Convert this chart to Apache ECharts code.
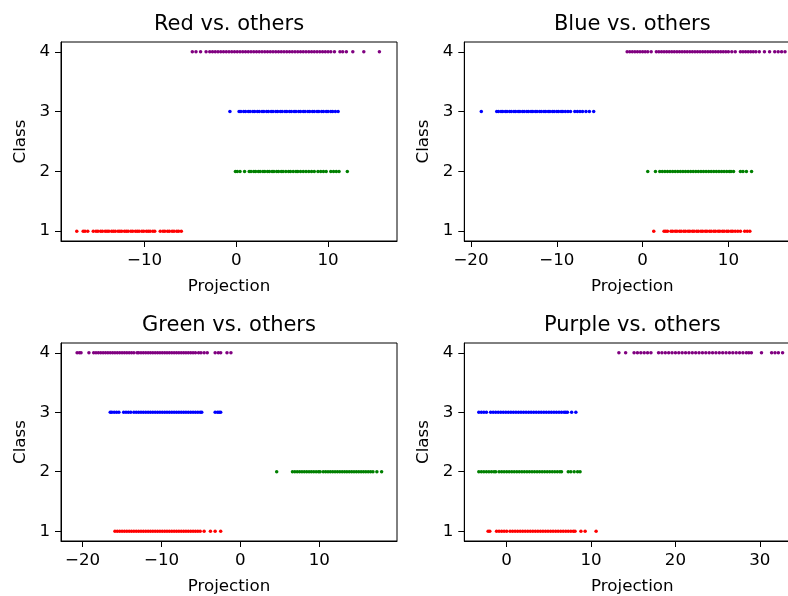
<!DOCTYPE html>
<html>
<head>
<meta charset="utf-8">
<script src="https://cdn.jsdelivr.net/npm/echarts@6/dist/echarts.min.js"></script>
<style>
html,body{margin:0;padding:0;background:#fff;overflow:hidden;width:788px;height:596px;}
#chart{width:801px;height:596px;}
</style>
</head>
<body>
<div id="chart"></div>
<script>
// ---------- data (x projection values per class, per panel) ----------
const panelTitles = ["Red vs. others", "Blue vs. others", "Green vs. others", "Purple vs. others"];
const classTicks = [1, 2, 3, 4];
const xTicks1 = [-10, 0, 10];
const xTicks2 = [-20, -10, 0, 10];
const xTicks3 = [-20, -10, 0, 10];
const xTicks4 = [0, 10, 20, 30];

// Panel 1: Red vs. others
const p1Red = [-17.4, -16.7, -16.5, -16.2, -15.6, -15.3, -15.1, -14.8, -14.6, -14.3, -14.1, -13.9, -13.6, -13.4, -13.2, -12.9, -12.7, -12.5, -12.2, -12.0, -11.8, -11.5, -11.3, -11.0, -10.8, -10.6, -10.3, -10.1, -9.8, -9.6, -9.4, -9.1, -8.9, -8.3, -8.0, -7.8, -7.5, -7.3, -7.0, -6.8, -6.5, -6.3, -6.0];
const p1Green = [-0.1, 0.1, 0.4, 0.9, 1.4, 1.6, 1.9, 2.1, 2.4, 2.6, 2.9, 3.1, 3.4, 3.6, 3.9, 4.1, 4.4, 4.6, 4.9, 5.1, 5.4, 5.7, 5.9, 6.2, 6.5, 6.7, 7.0, 7.3, 7.6, 7.9, 8.2, 8.5, 8.9, 9.2, 9.5, 9.8, 10.3, 10.6, 10.9, 11.2, 12.1];
const p1Blue = [-0.7, 0.3, 0.5, 0.8, 1.0, 1.3, 1.5, 1.8, 2.0, 2.3, 2.5, 2.8, 3.0, 3.3, 3.5, 3.8, 4.0, 4.3, 4.5, 4.8, 5.0, 5.3, 5.5, 5.8, 6.0, 6.3, 6.5, 6.8, 7.0, 7.3, 7.5, 7.8, 8.0, 8.3, 8.5, 8.8, 9.0, 9.3, 9.5, 9.8, 10.0, 10.3, 10.5, 10.8, 11.1];
const p1Purple = [-4.8, -4.4, -3.9, -3.3, -2.9, -2.6, -2.3, -2.0, -1.7, -1.4, -1.1, -0.8, -0.5, -0.2, 0.1, 0.4, 0.7, 1.0, 1.3, 1.6, 1.9, 2.2, 2.5, 2.8, 3.1, 3.4, 3.7, 4.0, 4.3, 4.6, 4.9, 5.2, 5.5, 5.8, 6.1, 6.4, 6.7, 7.0, 7.3, 7.6, 7.9, 8.2, 8.5, 8.8, 9.1, 9.4, 9.7, 10.0, 10.3, 10.7, 11.3, 11.6, 12.0, 12.7, 13.9, 15.6];

// Panel 2: Blue vs. others
const p2Red = [1.3, 2.5, 2.7, 2.9, 3.3, 3.5, 3.8, 4.0, 4.3, 4.5, 4.8, 5.0, 5.3, 5.5, 5.8, 6.0, 6.3, 6.5, 6.8, 7.0, 7.3, 7.5, 7.8, 8.0, 8.3, 8.5, 8.8, 9.0, 9.3, 9.5, 9.8, 10.0, 10.3, 10.5, 10.8, 11.1, 11.4, 11.9, 12.2, 12.5];
const p2Green = [0.6, 1.5, 2.0, 2.3, 2.6, 2.9, 3.2, 3.5, 3.8, 4.1, 4.4, 4.7, 5.0, 5.3, 5.6, 5.9, 6.2, 6.5, 6.8, 7.1, 7.4, 7.7, 8.0, 8.3, 8.6, 8.9, 9.2, 9.5, 9.8, 10.1, 10.3, 10.6, 11.4, 11.7, 12.1, 12.7];
const p2Blue = [-18.8, -17.0, -16.8, -16.5, -16.3, -16.0, -15.8, -15.5, -15.3, -15.0, -14.8, -14.5, -14.3, -14.0, -13.8, -13.5, -13.3, -13.0, -12.8, -12.5, -12.3, -12.0, -11.8, -11.5, -11.3, -11.0, -10.8, -10.5, -10.3, -10.0, -9.8, -9.5, -9.3, -9.0, -8.7, -8.4, -7.9, -7.6, -7.3, -7.0, -6.6, -6.2, -5.7];
const p2Purple = [-1.8, -1.5, -1.2, -0.9, -0.6, -0.3, 0.0, 0.3, 0.6, 1.0, 1.6, 1.9, 2.2, 2.5, 2.8, 3.1, 3.4, 3.7, 4.0, 4.3, 4.6, 4.9, 5.2, 5.5, 5.8, 6.1, 6.4, 6.7, 7.0, 7.3, 7.6, 7.9, 8.2, 8.5, 8.8, 9.1, 9.4, 9.7, 10.0, 10.4, 10.8, 11.4, 11.7, 12.0, 12.3, 12.6, 12.9, 13.2, 13.6, 14.2, 14.8, 15.4, 15.8, 16.2, 16.6];

// Panel 3: Green vs. others
const p3Red = [-15.9, -15.6, -15.3, -15.0, -14.7, -14.4, -14.1, -13.8, -13.5, -13.2, -12.9, -12.6, -12.3, -12.0, -11.7, -11.4, -11.1, -10.8, -10.5, -10.2, -9.9, -9.6, -9.3, -9.0, -8.7, -8.4, -8.1, -7.8, -7.5, -7.2, -6.9, -6.6, -6.3, -6.0, -5.7, -5.4, -5.1, -4.6, -3.8, -3.2, -2.5];
const p3Green = [4.6, 6.6, 6.9, 7.2, 7.5, 7.8, 8.1, 8.4, 8.7, 9.0, 9.3, 9.6, 9.9, 10.1, 10.5, 10.8, 11.1, 11.4, 11.7, 12.0, 12.3, 12.6, 12.9, 13.2, 13.5, 13.8, 14.1, 14.4, 14.7, 15.0, 15.3, 15.6, 15.9, 16.2, 16.5, 16.8, 17.3, 17.9];
const p3Blue = [-16.5, -16.3, -16.0, -15.7, -15.4, -14.8, -14.5, -14.2, -13.9, -13.5, -13.2, -12.9, -12.6, -12.3, -12.0, -11.7, -11.4, -11.1, -10.8, -10.5, -10.2, -9.9, -9.6, -9.3, -9.0, -8.7, -8.4, -8.1, -7.8, -7.5, -7.2, -6.9, -6.6, -6.3, -6.0, -5.7, -5.4, -5.1, -4.9, -3.2, -2.9, -2.7, -2.5];
const p3Purple = [-20.7, -20.4, -20.2, -19.2, -18.6, -18.3, -18.0, -17.7, -17.4, -17.1, -16.8, -16.5, -16.2, -15.9, -15.6, -15.3, -15.0, -14.7, -14.4, -14.1, -13.8, -13.5, -13.1, -12.9, -12.6, -12.3, -12.0, -11.7, -11.4, -11.1, -10.8, -10.5, -10.2, -9.9, -9.6, -9.3, -9.0, -8.7, -8.4, -8.1, -7.8, -7.5, -7.2, -6.9, -6.6, -6.3, -6.0, -5.7, -5.3, -5.0, -4.6, -4.2, -3.2, -2.8, -2.5, -1.7, -1.2];

// Panel 4: Purple vs. others
const p4Red = [-2.2, -2.0, -1.2, -0.9, -0.6, -0.3, 0.0, 0.4, 0.7, 1.0, 1.3, 1.6, 1.9, 2.2, 2.5, 2.8, 3.1, 3.4, 3.7, 4.0, 4.3, 4.6, 4.9, 5.2, 5.5, 5.8, 6.1, 6.4, 6.7, 7.0, 7.3, 7.6, 7.9, 8.1, 8.8, 9.3, 10.6];
const p4Green = [-3.3, -3.0, -2.7, -2.4, -2.1, -1.8, -1.5, -1.3, -0.9, -0.6, -0.3, 0.0, 0.3, 0.6, 0.9, 1.2, 1.5, 1.8, 2.1, 2.4, 2.7, 3.0, 3.3, 3.6, 3.9, 4.2, 4.5, 4.8, 5.1, 5.4, 5.7, 6.0, 6.3, 6.5, 7.3, 7.6, 8.0, 8.4, 8.7];
const p4Blue = [-3.3, -3.0, -2.7, -2.4, -1.9, -1.6, -1.3, -1.0, -0.7, -0.4, -0.1, 0.2, 0.5, 0.8, 1.1, 1.4, 1.7, 2.0, 2.3, 2.6, 2.9, 3.2, 3.5, 3.8, 4.1, 4.4, 4.7, 5.0, 5.3, 5.6, 5.9, 6.2, 6.5, 6.8, 7.0, 7.2, 7.7, 8.2];
const p4Purple = [13.3, 14.1, 15.1, 15.5, 15.9, 16.3, 16.7, 17.1, 18.0, 18.4, 18.8, 19.2, 19.6, 20.0, 20.4, 20.8, 21.2, 21.6, 22.0, 22.4, 22.8, 23.2, 23.6, 24.0, 24.4, 24.8, 25.2, 25.6, 26.0, 26.4, 26.8, 27.2, 27.6, 28.0, 28.4, 28.7, 29.0, 30.2, 31.4, 31.8, 32.2, 32.7];

// ---------- layout / style ----------
const FONT = "DejaVu Sans";
const COLORS = { red: "#ff0000", green: "#008000", blue: "#0000ff", purple: "#800080" };
const panels = [
  { title: panelTitles[0], left: 61, top: 42, xmin: -19.12, xmax: 17.52, ticks: xTicks1, data: [p1Red, p1Green, p1Blue, p1Purple] },
  { title: panelTitles[1], left: 464.3, top: 42, xmin: -20.78, xmax: 18.38, ticks: xTicks2, data: [p2Red, p2Green, p2Blue, p2Purple] },
  { title: panelTitles[2], left: 61, top: 343, xmin: -22.74, xmax: 19.85, ticks: xTicks3, data: [p3Red, p3Green, p3Blue, p3Purple] },
  { title: panelTitles[3], left: 464.3, top: 343, xmin: -5.02, xmax: 34.8, ticks: xTicks4, data: [p4Red, p4Green, p4Blue, p4Purple] }
];
const W = 336, H = 199;
const colorOrder = [COLORS.red, COLORS.green, COLORS.blue, COLORS.purple];

const grid = [], xAxis = [], yAxis = [], series = [], graphic = [];
panels.forEach((p, i) => {
  grid.push({ left: p.left, top: p.top, width: W, height: H, show: true, borderColor: "#000", borderWidth: 1, backgroundColor: "#fff", containLabel: false });
  xAxis.push({
    type: "value", gridIndex: i, min: p.xmin, max: p.xmax,
    name: "Projection", nameLocation: "middle", nameGap: 37,
    nameTextStyle: { fontFamily: FONT, fontSize: 16.7, color: "#000" },
    axisLine: { show: true, onZero: false, lineStyle: { color: "#000", width: 1 } },
    axisTick: { show: true, inside: false, length: 6, customValues: p.ticks, lineStyle: { color: "#000" } },
    axisLabel: { show: true, customValues: p.ticks, margin: 11, fontFamily: FONT, fontSize: 16.7, color: "#000",
      formatter: v => (v < 0 ? "\u2212" + Math.abs(v) : String(v)) },
    splitLine: { show: false }
  });
  yAxis.push({
    type: "value", gridIndex: i, min: 0.835, max: 4.165,
    name: "Class", nameLocation: "middle", nameGap: 32, nameRotate: 90,
    nameTextStyle: { fontFamily: FONT, fontSize: 16.7, color: "#000" },
    axisLine: { show: true, onZero: false, lineStyle: { color: "#000", width: 1 } },
    axisTick: { show: true, inside: false, length: 6, customValues: classTicks, lineStyle: { color: "#000" } },
    axisLabel: { show: true, customValues: classTicks, margin: 11, fontFamily: FONT, fontSize: 16.7, color: "#000" },
    splitLine: { show: false }
  });
  p.data.forEach((arr, c) => {
    series.push({
      type: "scatter", xAxisIndex: i, yAxisIndex: i,
      symbol: "circle", symbolSize: 3.5,
      itemStyle: { color: colorOrder[c], opacity: 1 },
      data: arr.map(x => [x, classTicks[c]]),
      silent: true, animation: false
    });
  });
  graphic.push({
    type: "text", x: p.left + W / 2, y: p.top - 17,
    style: { text: p.title, font: "21px " + FONT, fill: "#000", textAlign: "center", textVerticalAlign: "middle" }
  });
});

const chart = echarts.init(document.getElementById("chart"), null, { renderer: "canvas" });
chart.setOption({
  animation: false,
  backgroundColor: "#fff",
  grid, xAxis, yAxis, series, graphic
});
</script>
</body>
</html>
